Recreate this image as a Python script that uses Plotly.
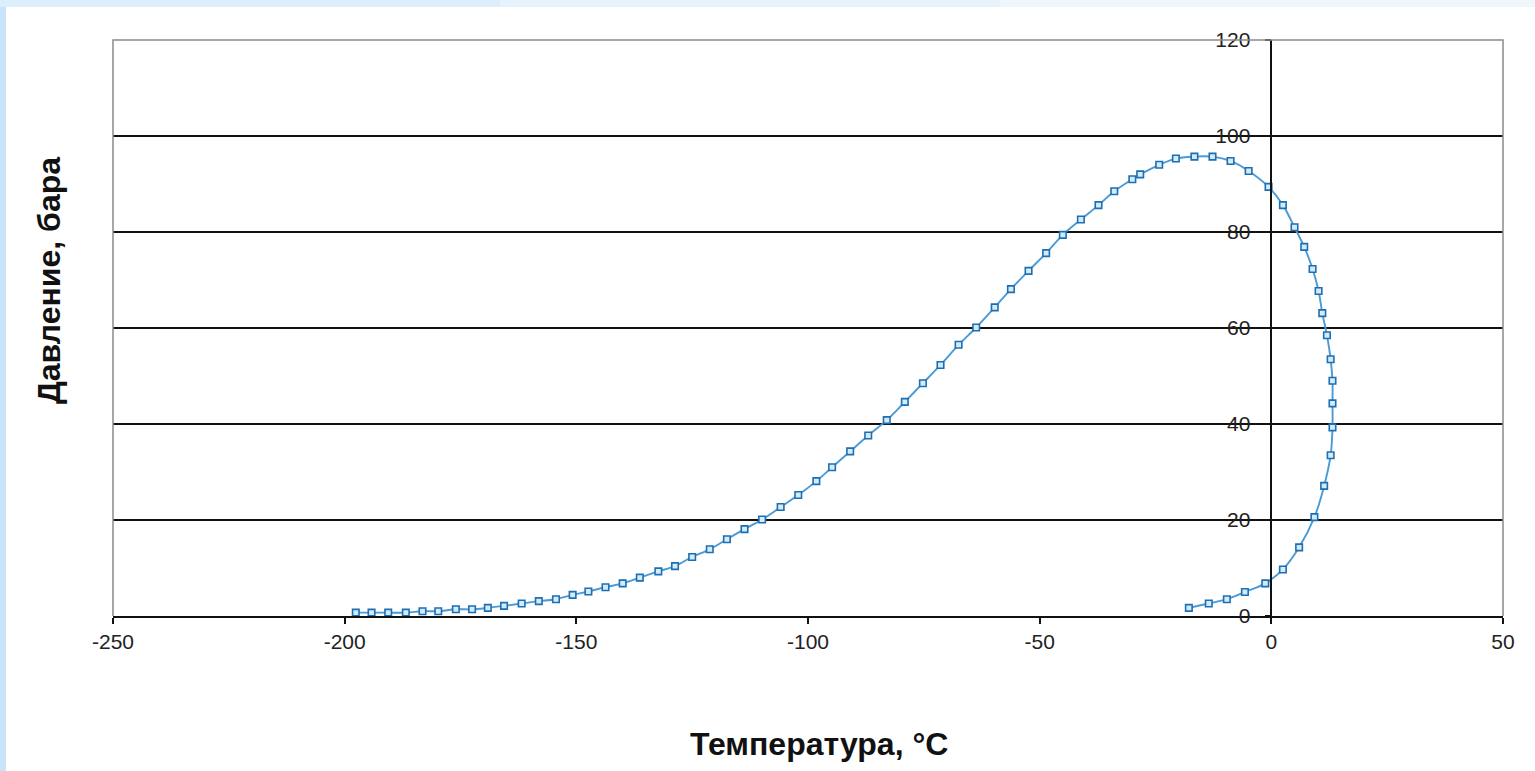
import plotly.graph_objects as go

# Phase envelope: temperature (°C) vs pressure (bar)
temperature = [
    -197.6, -194.2, -190.6, -186.8, -183.2, -179.8, -176.0, -172.5, -169.1, -165.6,
    -161.8, -158.1, -154.4, -150.8, -147.4, -143.7, -140.0, -136.3, -132.3, -128.7,
    -125.0, -121.2, -117.5, -113.7, -109.9, -105.9, -102.1, -98.2, -94.8, -90.9,
    -87.0, -83.0, -79.1, -75.2, -71.4, -67.5, -63.7, -59.7, -56.2, -52.4,
    -48.6, -45.0, -41.1, -37.3, -33.9, -30.0, -28.3, -24.2, -20.6, -16.6,
    -12.7, -8.8, -4.9, -0.6, 2.5, 5.0, 7.1, 8.9, 10.2, 11.0,
    12.0, 12.8, 13.2, 13.2, 13.2, 12.8, 11.4, 9.3, 6.0, 2.5,
    -1.3, -5.7, -9.6, -13.5, -17.8,
]
pressure = [
    0.7, 0.7, 0.7, 0.7, 1.0, 1.0, 1.4, 1.4, 1.7, 2.1,
    2.6, 3.1, 3.5, 4.4, 5.1, 6.0, 6.8, 8.0, 9.3, 10.4,
    12.3, 13.9, 16.0, 18.1, 20.1, 22.7, 25.2, 28.1, 31.0, 34.3,
    37.6, 40.8, 44.6, 48.5, 52.3, 56.5, 60.1, 64.3, 68.1, 71.9,
    75.6, 79.4, 82.6, 85.6, 88.5, 91.0, 92.0, 94.0, 95.3, 95.7,
    95.7, 94.8, 92.7, 89.4, 85.6, 81.0, 76.9, 72.3, 67.7, 63.1,
    58.5, 53.5, 49.0, 44.3, 39.3, 33.5, 27.1, 20.6, 14.3, 9.7,
    6.8, 5.0, 3.5, 2.6, 1.7,
]

x_ticks = [-250, -200, -150, -100, -50, 0, 50]
y_ticks = [0, 20, 40, 60, 80, 100, 120]
x_title = "Температура, °C"
y_title = "Давление, бара"

FONT = "Arial, Liberation Sans, sans-serif"

fig = go.Figure()
fig.add_trace(go.Scatter(
    x=temperature, y=pressure,
    mode="lines+markers",
    line=dict(color="#4a9ad6", width=1.9, shape="spline", smoothing=1.0),
    marker=dict(symbol="square", size=6.5, color="#d4ebfb",
                line=dict(color="#1d6fb3", width=1.6)),
    showlegend=False,
))

L, R, T, B = 113, 32, 40, 155
W, H = 1535, 771
pw, ph = W - L - R, H - T - B

def px_x(p):
    return (p - L) / pw

def px_y(p):
    return (H - B - p) / ph

fig.update_layout(
    width=W, height=H,
    margin=dict(l=L, r=R, t=T, b=B),
    paper_bgcolor="white",
    plot_bgcolor="white",
    font=dict(family=FONT, size=21, color="#222222"),
    xaxis=dict(
        range=[-250, 50], tickvals=x_ticks, ticktext=[str(v) for v in x_ticks],
        showgrid=False, zeroline=False,
        showline=True, linecolor="#111111", linewidth=1.5,
        ticks="outside", ticklen=6, tickcolor="#111111", tickwidth=1.5,
        tickfont=dict(family=FONT, size=21, color="#222222"),
        fixedrange=True,
    ),
    yaxis=dict(
        range=[0, 120], tickvals=y_ticks, ticktext=[str(v) for v in y_ticks],
        showgrid=True, gridcolor="#111111", gridwidth=1.5,
        zeroline=False,
        showline=True, linecolor="#111111", linewidth=1.5,
        anchor="free", position=250 / 300,
        ticks="outside", ticklen=6, tickcolor="#111111", tickwidth=1.5,
        ticklabelstandoff=10,
        tickfont=dict(family=FONT, size=21, color="#222222"),
        fixedrange=True,
    ),
    shapes=[
        # plot area border (gray) on left, top, right
        dict(type="path", xref="paper", yref="paper",
             path="M 0,0 L 0,1 L 1,1 L 1,0",
             line=dict(color="#8a8a8a", width=1.5), layer="above"),
        # slide background strips
        dict(type="rect", xref="paper", yref="paper",
             x0=px_x(0), x1=px_x(6), y0=px_y(H), y1=px_y(0),
             fillcolor="#c9e3fa", line=dict(width=0), layer="below"),
        dict(type="rect", xref="paper", yref="paper",
             x0=px_x(0), x1=px_x(500), y0=px_y(7), y1=px_y(0),
             fillcolor="#dcedfb", line=dict(width=0), layer="below"),
        dict(type="rect", xref="paper", yref="paper",
             x0=px_x(500), x1=px_x(1000), y0=px_y(7), y1=px_y(0),
             fillcolor="#e6f2fc", line=dict(width=0), layer="below"),
        dict(type="rect", xref="paper", yref="paper",
             x0=px_x(1000), x1=px_x(W), y0=px_y(7), y1=px_y(0),
             fillcolor="#eff7fd", line=dict(width=0), layer="below"),
    ],
    annotations=[
        dict(text=f"<b>{x_title}</b>", xref="paper", yref="paper",
             x=px_x(819), y=px_y(744), xanchor="center", yanchor="middle",
             showarrow=False, font=dict(family=FONT, size=32, color="#111111")),
        dict(text=f"<b>{y_title}</b>", xref="paper", yref="paper",
             x=px_x(49), y=px_y(281), xanchor="center", yanchor="middle",
             textangle=-90,
             showarrow=False, font=dict(family=FONT, size=32, color="#111111")),
    ],
)

fig.write_html(
    "out.html",
    config={"displayModeBar": False},
    post_script="document.body.style.margin='0';document.body.style.overflow='hidden';",
)
